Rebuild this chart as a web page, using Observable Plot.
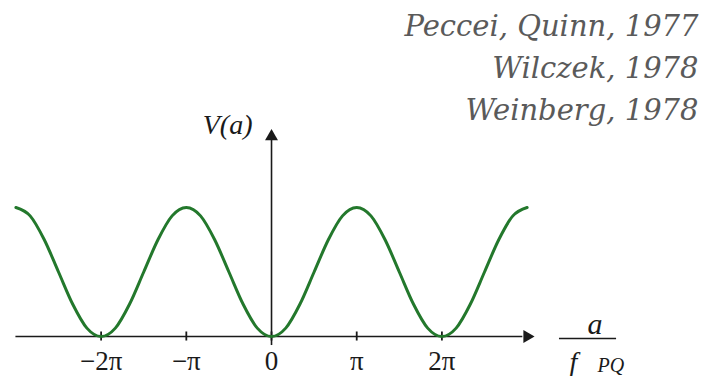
<!DOCTYPE html>
<html>
<head>
<meta charset="utf-8">
<script src="https://cdn.jsdelivr.net/npm/d3@7"></script>
<script src="https://cdn.jsdelivr.net/npm/@observablehq/plot@0.6"></script>
<style>
  html, body { margin: 0; padding: 0; background: #fff; }
  #chart svg { display: block; }
</style>
</head>
<body>
<div id="chart"></div>
<script>
// Axion potential V(a) against a / f_PQ, sampled every π/6 (x in units of π)
const aOverPi = [
  -3.000, -2.833, -2.667, -2.500, -2.333, -2.167,
  -2.000, -1.833, -1.667, -1.500, -1.333, -1.167,
  -1.000, -0.833, -0.667, -0.500, -0.333, -0.167,
   0.000,  0.167,  0.333,  0.500,  0.667,  0.833,
   1.000,  1.167,  1.333,  1.500,  1.667,  1.833,
   2.000,  2.167,  2.333,  2.500,  2.667,  2.833,
   3.000
];
const potential = [
  2.00, 1.87, 1.50, 1.00, 0.50, 0.13,
  0.00, 0.13, 0.50, 1.00, 1.50, 1.87,
  2.00, 1.87, 1.50, 1.00, 0.50, 0.13,
  0.00, 0.13, 0.50, 1.00, 1.50, 1.87,
  2.00, 1.87, 1.50, 1.00, 0.50, 0.13,
  0.00, 0.13, 0.50, 1.00, 1.50, 1.87,
  2.00
];

// Axis ticks (in units of π) and their labels
const tickValues = [-2, -1, 0, 1, 2];
const tickLabels = ["−2π", "−π", "0", "π", "2π"];

const citations = ["Peccei, Quinn, 1977", "Wilczek, 1978", "Weinberg, 1978"];

const curve = aOverPi.map((a, i) => ({a, v: potential[i]}));
const ticks = tickValues.map((t, i) => ({t, label: tickLabels[i]}));

const math = "Liberation Serif";
const book = "DejaVu Serif";
const ink = "#1a1a1a";

const chart = Plot.plot({
  width: 712,
  height: 376,
  margin: 0,
  style: {background: "#fff", overflow: "visible"},
  x: {domain: [-3.181, 5.176], axis: null},
  y: {domain: [-0.620, 5.209], axis: null},
  marks: [
    // horizontal axis with arrowhead
    Plot.ruleY([0], {x1: -3.0, x2: 2.95, stroke: ink, strokeWidth: 1.6}),
    Plot.dot([{a: 3.0, v: 0}], {x: "a", y: "v", symbol: "triangle", rotate: 90, r: 4.8, fill: ink, stroke: "none"}),
    // vertical axis with arrowhead
    Plot.ruleX([0], {y1: -0.14, y2: 3.05, stroke: ink, strokeWidth: 1.6}),
    Plot.dot([{a: 0, v: 3.1}], {x: "a", y: "v", symbol: "triangle", r: 4.8, fill: ink, stroke: "none"}),
    // tick marks and labels
    Plot.ruleX(ticks, {x: "t", y1: -0.07, y2: 0.07, stroke: ink, strokeWidth: 1.8}),
    Plot.text(ticks, {x: "t", y: 0, text: "label", dy: 25, fontFamily: math, fontSize: 27, fill: ink}),
    // the potential
    Plot.line(curve, {x: "a", y: "v", curve: "monotone-x", stroke: "#23782c", strokeWidth: 3}),
    // axis titles
    Plot.text(["V(a)"], {frameAnchor: "top-left", dx: 252, dy: 114, textAnchor: "end", fontFamily: math, fontStyle: "italic", fontSize: 28, fill: ink}),
    Plot.text(["a"], {frameAnchor: "top-left", dx: 587, dy: 312, fontFamily: math, fontStyle: "italic", fontSize: 30, fill: ink}),
    Plot.ruleY([0], {x1: 3.38, x2: 4.05, dy: 2, stroke: ink, strokeWidth: 1.6}),
    Plot.text(["f"], {frameAnchor: "top-left", dx: 569, dy: 351, fontFamily: math, fontStyle: "italic", fontSize: 28, fill: ink}),
    Plot.text(["PQ"], {frameAnchor: "top-left", dx: 597, dy: 357, fontFamily: math, fontStyle: "italic", fontSize: 20, fill: ink}),
    // references
    Plot.text([citations.join("\n")], {
      frameAnchor: "top-right", dx: -14, dy: 6, textAnchor: "end", lineAnchor: "top",
      lineHeight: 1.45, fontFamily: book, fontStyle: "italic", fontSize: 29, fill: "#5a5a5a"
    })
  ]
});

document.getElementById("chart").append(chart);
</script>
</body>
</html>
